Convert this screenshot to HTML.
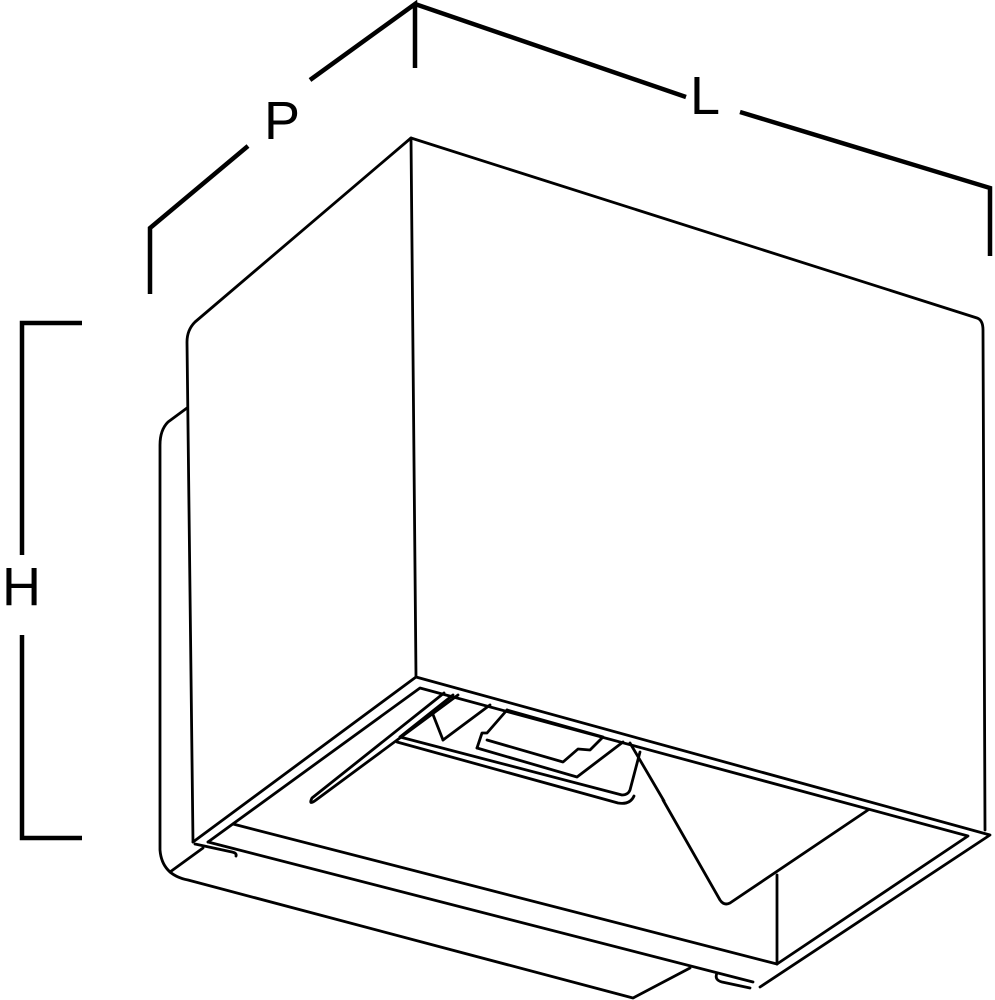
<!DOCTYPE html>
<html><head><meta charset="utf-8"><style>
html,body{margin:0;padding:0;background:#fff;width:995px;height:1000px;overflow:hidden}
svg{display:block}
text{font-family:"Liberation Sans",sans-serif;font-size:54px;fill:#000}
</style></head><body>
<svg width="995" height="1000" viewBox="0 0 995 1000" xmlns="http://www.w3.org/2000/svg">
<g fill="none" stroke="#000" stroke-width="4.5" stroke-linecap="butt" stroke-linejoin="miter">
<polyline points="150,294 150,228 248,146"/>
<polyline points="310,80 415,4 415,68"/>
<polyline points="415,4 686,97"/>
<polyline points="740,112 990,188 990,256"/>
<polyline points="82,323 22,323 22,555"/>
<polyline points="22,635 22,838 82,838"/>
</g>
<text x="264" y="139">P</text>
<text x="690" y="114">L</text>
<text x="2" y="605">H</text>
<g fill="none" stroke="#000" stroke-width="2.8" stroke-linejoin="round" stroke-linecap="round">
<path d="M193,842 L187,342 Q187,330 195,322 L411,138 L977,318 Q983,320 983,330 L985,830"/>
<line x1="411" y1="138" x2="416" y2="677"/>
<path d="M187,408 L168,422 Q160,430 160,445 L160,850 Q162,875 188,880 L633,998 L690,968"/>
<line x1="170" y1="872" x2="203" y2="848"/>
<polyline points="193,842 416,677 990,835 760,987 Q755,991 748,989"/>
<path d="M717,973 Q714,980 722,982 L750,988"/>
<polyline points="208,842 420,688 968,836 777,964"/>
<line x1="208" y1="842" x2="753" y2="982"/>
<path d="M195,844 L232,852 Q237,853 236,856"/>
<line x1="233" y1="824" x2="777" y2="964"/>
<line x1="777" y1="875" x2="777" y2="964"/>
<path d="M868,810 L730,903 Q724,906 720,900 L663,800"/>
<line x1="630" y1="743" x2="664" y2="801"/>
<path d="M444,693 L312,798 Q308,806 316,800 L458,695"/>
<line x1="453" y1="695" x2="400" y2="737"/>
<path d="M400,737 L622,795 Q628,795 630,790 L640,752"/>
<path d="M397,742 L618,803 Q630,805 634,796"/>
<line x1="432" y1="712" x2="443" y2="740"/>
<polyline points="443,740 490,705"/>
<polyline points="507,710 487,733 482,733 477,748"/>
<polyline points="507,710 603,737 590,750 578,749 563,762 487,740"/>
<polyline points="477,748 577,777 623,742"/>
</g>
</svg>
</body></html>
